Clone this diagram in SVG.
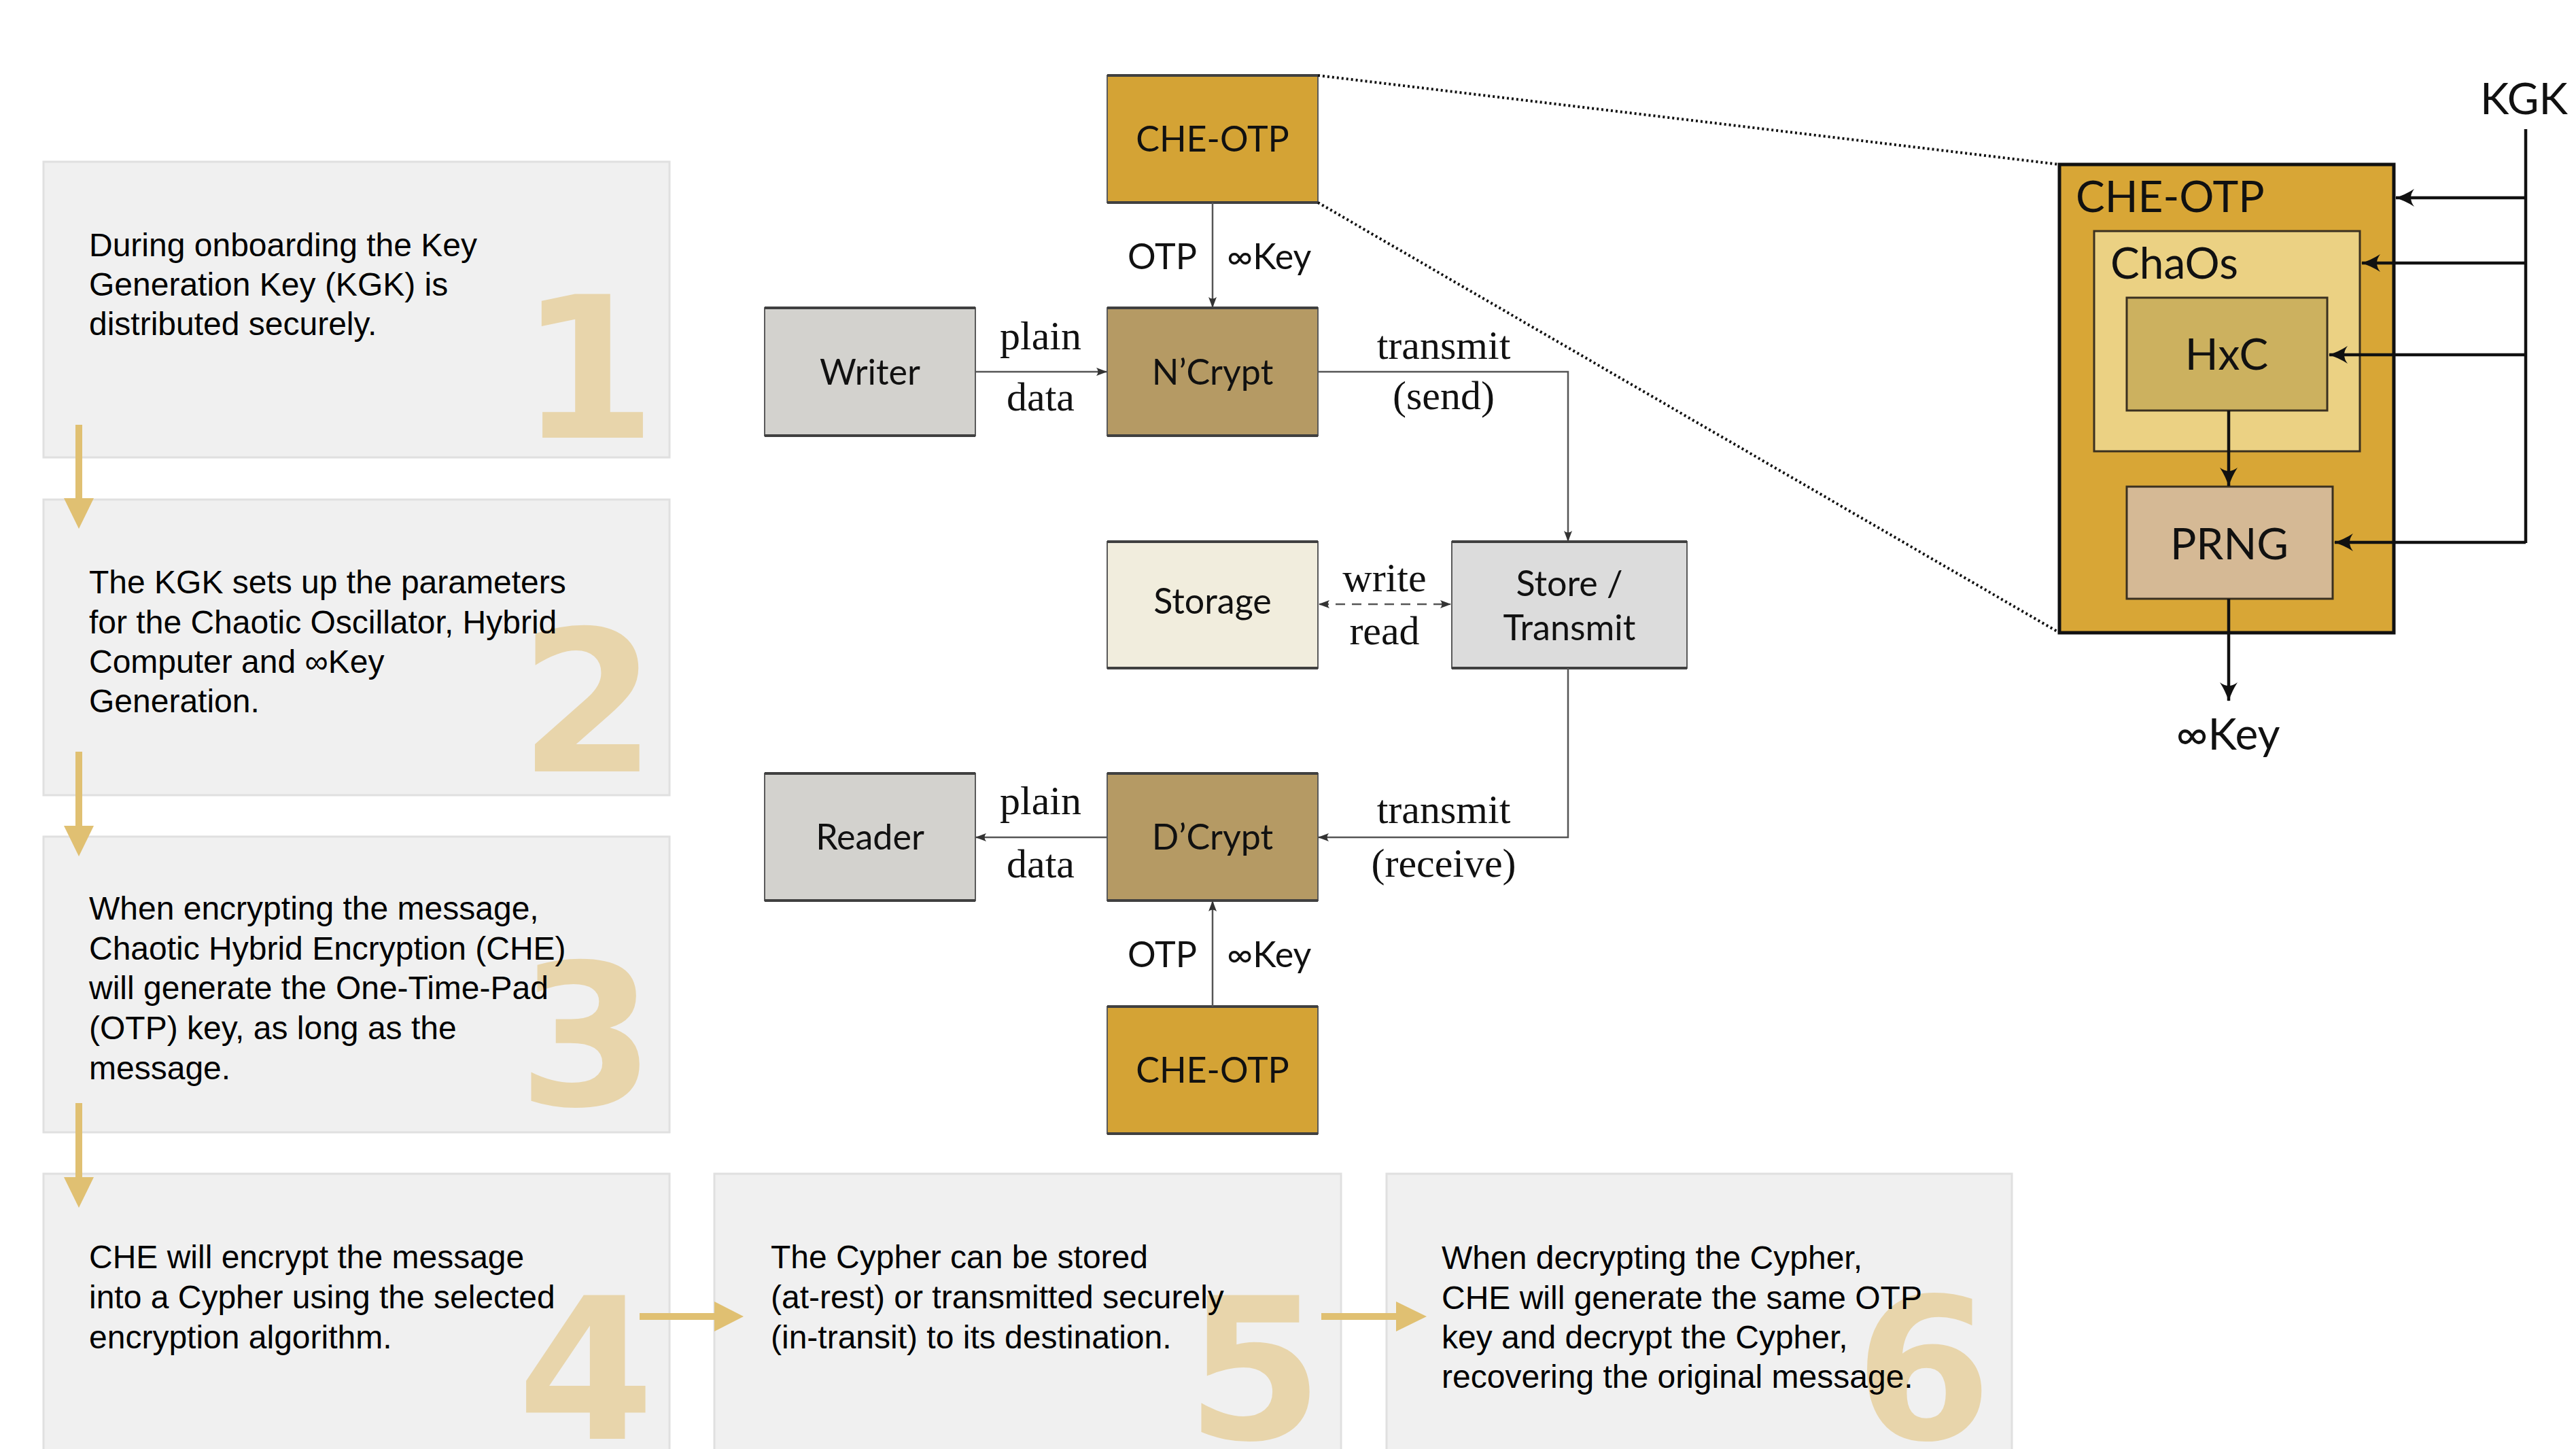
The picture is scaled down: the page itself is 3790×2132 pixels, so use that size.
<svg xmlns="http://www.w3.org/2000/svg" width="3790" height="2132" viewBox="0 0 3790 2132">
<defs>
<style>
.card{fill:#f0f0f0;stroke:#e0e0e0;stroke-width:3}
.big{font-family:"DejaVu Sans",sans-serif;font-weight:bold;font-size:290px;fill:#e8d5ab;text-anchor:middle}
.txt{font-family:"Liberation Sans",Arial,sans-serif;font-size:48px;fill:#000}
.yarr{stroke:#e0c072;stroke-width:10;fill:none}
.yhead{fill:#e0c072}
.node{stroke:#5a5a5a;stroke-width:2}
.edge{stroke:#404040;stroke-width:4}
.lbl{font-family:Lato,"DejaVu Sans",sans-serif;font-size:52px;fill:#111;text-anchor:middle}
.ser{font-family:"Liberation Serif","Times New Roman",serif;font-size:60px;fill:#111;text-anchor:middle}
.con{stroke:#555;stroke-width:2.5;fill:none}
.dot{stroke:#111;stroke-width:4;stroke-dasharray:3 4;fill:none}
.pan{font-family:Lato,"DejaVu Sans",sans-serif;font-size:64px;fill:#111}
.kl{stroke:#111;stroke-width:4.5;fill:none}
</style>
<marker id="sm" viewBox="0 0 16 12" refX="15" refY="6" markerWidth="16" markerHeight="12" markerUnits="userSpaceOnUse" orient="auto-start-reverse">
<path d="M0,0 L16,6 L0,12 Q5,6 0,0 Z" fill="#333"/>
</marker>
<marker id="bk" viewBox="0 0 28 28" refX="27" refY="14" markerWidth="28" markerHeight="28" markerUnits="userSpaceOnUse" orient="auto">
<path d="M0,1 Q14,10 28,14 Q14,18 0,27 Q10,14 0,1 Z" fill="#111"/>
</marker>
</defs>
<rect width="3790" height="2132" fill="#fff"/>

<g id="step1"><rect class="card" x="64" y="238" width="921" height="435"/><text class="big" x="865" y="644">1</text>
<text class="txt" x="131" y="377">During onboarding the Key</text><text class="txt" x="131" y="435">Generation Key (KGK) is</text><text class="txt" x="131" y="493">distributed securely.</text></g>

<g id="step2"><rect class="card" x="64" y="735" width="921" height="435"/><text class="big" x="865" y="1135">2</text>
<text class="txt" x="131" y="873">The KGK sets up the parameters</text><text class="txt" x="131" y="932">for the Chaotic Oscillator, Hybrid</text><text class="txt" x="131" y="990">Computer and ∞Key</text><text class="txt" x="131" y="1048">Generation.</text></g>

<g id="step3"><rect class="card" x="64" y="1231" width="921" height="435"/><text class="big" x="863" y="1626">3</text>
<text class="txt" x="131" y="1353">When encrypting the message,</text><text class="txt" x="131" y="1412">Chaotic Hybrid Encryption (CHE)</text><text class="txt" x="131" y="1470">will generate the One-Time-Pad</text><text class="txt" x="131" y="1529">(OTP) key, as long as the</text><text class="txt" x="131" y="1588">message.</text></g>

<g id="step4"><rect class="card" x="64" y="1727" width="921" height="500"/><text class="big" x="862" y="2117">4</text>
<text class="txt" x="131" y="1866">CHE will encrypt the message</text><text class="txt" x="131" y="1925">into a Cypher using the selected</text><text class="txt" x="131" y="1984">encryption algorithm.</text></g>

<g id="step5"><rect class="card" x="1051" y="1727" width="922" height="500"/><text class="big" x="1846" y="2117">5</text>
<text class="txt" x="1134" y="1866">The Cypher can be stored</text><text class="txt" x="1134" y="1925">(at-rest) or transmitted securely</text><text class="txt" x="1134" y="1984">(in-transit) to its destination.</text></g>

<g id="step6"><rect class="card" x="2040" y="1727" width="920" height="500"/><text class="big" x="2830" y="2117">6</text>
<text class="txt" x="2121" y="1867">When decrypting the Cypher,</text><text class="txt" x="2121" y="1926">CHE will generate the same OTP</text><text class="txt" x="2121" y="1984">key and decrypt the Cypher,</text><text class="txt" x="2121" y="2042">recovering the original message.</text></g>

<g id="step-arrows">
<line class="yarr" x1="116" y1="625" x2="116" y2="735"/><path class="yhead" d="M94,733 L138,733 L116,778 Z"/>
<line class="yarr" x1="116" y1="1106" x2="116" y2="1217"/><path class="yhead" d="M94,1215 L138,1215 L116,1260 Z"/>
<line class="yarr" x1="116" y1="1623" x2="116" y2="1734"/><path class="yhead" d="M94,1732 L138,1732 L116,1777 Z"/>
<line class="yarr" x1="941" y1="1937" x2="1053" y2="1937"/><path class="yhead" d="M1051,1915 L1051,1959 L1094,1937 Z"/>
<line class="yarr" x1="1944" y1="1937" x2="2056" y2="1937"/><path class="yhead" d="M2054,1915 L2054,1959 L2099,1937 Z"/>
</g>

<g id="che-otp-top"><rect class="node" x="1629" y="111" width="310" height="187" fill="#d4a335"/><line class="edge" x1="1629" y1="111" x2="1939" y2="111"/><line class="edge" x1="1629" y1="298" x2="1939" y2="298"/><text class="lbl" x="1784" y="223">CHE-OTP</text></g>
<g id="writer"><rect class="node" x="1125" y="453" width="310" height="188" fill="#d3d2ce"/><line class="edge" x1="1125" y1="453" x2="1435" y2="453"/><line class="edge" x1="1125" y1="641" x2="1435" y2="641"/><text class="lbl" x="1280" y="566">Writer</text></g>
<g id="ncrypt"><rect class="node" x="1629" y="453" width="310" height="188" fill="#b59a64"/><line class="edge" x1="1629" y1="453" x2="1939" y2="453"/><line class="edge" x1="1629" y1="641" x2="1939" y2="641"/><text class="lbl" x="1784" y="566">N’Crypt</text></g>
<g id="storage"><rect class="node" x="1629" y="797" width="310" height="186" fill="#f1eddd"/><line class="edge" x1="1629" y1="797" x2="1939" y2="797"/><line class="edge" x1="1629" y1="983" x2="1939" y2="983"/><text class="lbl" x="1784" y="903">Storage</text></g>
<g id="store-transmit"><rect class="node" x="2136" y="797" width="346" height="186" fill="#dcdcdc"/><line class="edge" x1="2136" y1="797" x2="2482" y2="797"/><line class="edge" x1="2136" y1="983" x2="2482" y2="983"/><text class="lbl" x="2309" y="877">Store /</text><text class="lbl" x="2309" y="942">Transmit</text></g>
<g id="reader"><rect class="node" x="1125" y="1138" width="310" height="187" fill="#d3d2ce"/><line class="edge" x1="1125" y1="1138" x2="1435" y2="1138"/><line class="edge" x1="1125" y1="1325" x2="1435" y2="1325"/><text class="lbl" x="1280" y="1250">Reader</text></g>
<g id="dcrypt"><rect class="node" x="1629" y="1138" width="310" height="187" fill="#b59a64"/><line class="edge" x1="1629" y1="1138" x2="1939" y2="1138"/><line class="edge" x1="1629" y1="1325" x2="1939" y2="1325"/><text class="lbl" x="1784" y="1250">D’Crypt</text></g>
<g id="che-otp-bottom"><rect class="node" x="1629" y="1481" width="310" height="187" fill="#d4a335"/><line class="edge" x1="1629" y1="1481" x2="1939" y2="1481"/><line class="edge" x1="1629" y1="1668" x2="1939" y2="1668"/><text class="lbl" x="1784" y="1593">CHE-OTP</text></g>

<g id="che-otp-detail"><rect x="3030" y="242" width="492" height="689" fill="#d8a636" stroke="#111" stroke-width="5"/><text class="pan" x="3054" y="312">CHE-OTP</text></g>
<g id="chaos"><rect x="3081" y="340" width="391" height="324" fill="#ebd183" stroke="#3a3020" stroke-width="3"/><text class="pan" x="3105" y="410">ChaOs</text></g>
<g id="hxc"><rect x="3129" y="438" width="295" height="166" fill="#ccb15f" stroke="#3a3020" stroke-width="3"/><text class="pan" x="3276" y="544" text-anchor="middle">HxC</text></g>
<g id="prng"><rect x="3129" y="716" width="303" height="165" fill="#d5b995" stroke="#3a3020" stroke-width="3"/><text class="pan" x="3280" y="823" text-anchor="middle">PRNG</text></g>
<g id="kgk"><text class="pan" x="3649" y="168">KGK</text></g>
<g id="inf-key"><text class="pan" x="3278" y="1103" text-anchor="middle">∞Key</text></g>

<g id="connectors">
<line class="con" x1="1784" y1="298" x2="1784" y2="452" marker-end="url(#sm)"/>
<line class="con" x1="1435" y1="547" x2="1628" y2="547" marker-end="url(#sm)"/>
<path class="con" d="M1939,547 H2307 V796" marker-end="url(#sm)"/>
<line class="con" x1="1941" y1="889" x2="2134" y2="889" stroke-dasharray="14 10" marker-start="url(#sm)" marker-end="url(#sm)"/>
<path class="con" d="M2307,983 V1232 H1940" marker-end="url(#sm)"/>
<line class="con" x1="1629" y1="1232" x2="1436" y2="1232" marker-end="url(#sm)"/>
<line class="con" x1="1784" y1="1481" x2="1784" y2="1326" marker-end="url(#sm)"/>
<path class="dot" d="M1939,111 L3030,242"/>
<path class="dot" d="M1939,298 L3030,931"/>
<path class="kl" d="M3716,190 V799"/>
<path class="kl" d="M3716,291 H3525" marker-end="url(#bk)"/>
<path class="kl" d="M3716,387 H3475" marker-end="url(#bk)"/>
<path class="kl" d="M3716,522 H3427" marker-end="url(#bk)"/>
<path class="kl" d="M3716,798 H3435" marker-end="url(#bk)"/>
<path class="kl" d="M3279,604 V715" marker-end="url(#bk)"/>
<path class="kl" d="M3279,881 V1031" marker-end="url(#bk)"/>
</g>

<g id="conn-labels">
<text class="lbl" x="1761" y="396" style="text-anchor:end">OTP</text>
<text class="lbl" x="1805" y="396" style="text-anchor:start">∞Key</text>
<text class="ser" x="1531" y="514">plain</text><text class="ser" x="1531" y="604">data</text>
<text class="ser" x="2124" y="528">transmit</text><text class="ser" x="2124" y="602">(send)</text>
<text class="ser" x="2037" y="870">write</text><text class="ser" x="2037" y="948">read</text>
<text class="ser" x="1531" y="1198">plain</text><text class="ser" x="1531" y="1291">data</text>
<text class="ser" x="2124" y="1211">transmit</text><text class="ser" x="2124" y="1290">(receive)</text>
<text class="lbl" x="1761" y="1423" style="text-anchor:end">OTP</text>
<text class="lbl" x="1805" y="1423" style="text-anchor:start">∞Key</text>
</g>
</svg>
